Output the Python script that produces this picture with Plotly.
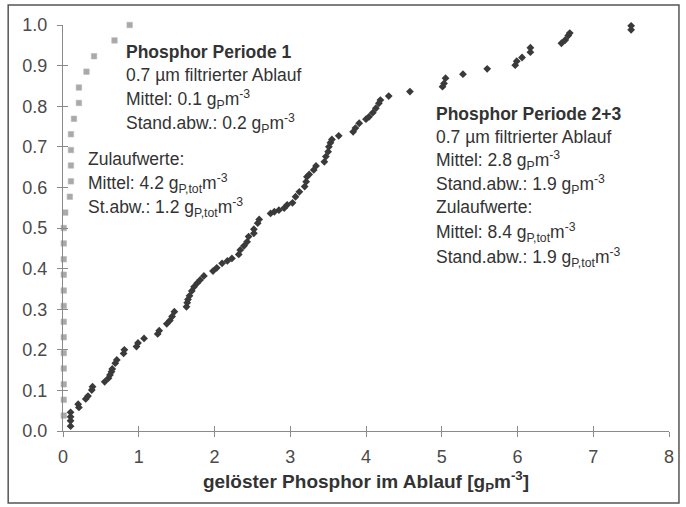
import plotly.graph_objects as go

# Periode 1: gelöster Phosphor im Ablauf (kumulierte Häufigkeit)
p1_x = [0.01, 0.01, 0.01, 0.01, 0.01, 0.01, 0.01, 0.01, 0.01, 0.01, 0.01, 0.01, 0.01,
        0.03, 0.09, 0.105, 0.105, 0.105, 0.105, 0.145, 0.21, 0.21, 0.31, 0.41, 0.68, 0.88]
p1_y = [0.038, 0.077, 0.115, 0.154, 0.192, 0.231, 0.269, 0.308, 0.346, 0.385, 0.423, 0.462, 0.500,
        0.538, 0.577, 0.615, 0.654, 0.692, 0.731, 0.769, 0.808, 0.846, 0.885, 0.923, 0.962, 1.000]

# Periode 2+3
p23_x = [0.10, 0.10, 0.10, 0.10, 0.21, 0.20, 0.30, 0.33, 0.38, 0.39,
         0.55, 0.60, 0.62, 0.64, 0.65, 0.69, 0.71, 0.80, 0.81, 0.97,
         0.99, 1.07, 1.25, 1.27, 1.37, 1.41, 1.44, 1.47, 1.63, 1.64,
         1.65, 1.67, 1.70, 1.73, 1.77, 1.81, 1.86, 1.98, 2.03, 2.10,
         2.17, 2.23, 2.32, 2.34, 2.39, 2.43, 2.45, 2.52, 2.52, 2.57,
         2.59, 2.74, 2.79, 2.85, 2.92, 2.96, 3.03, 3.07, 3.12, 3.19,
         3.21, 3.22, 3.25, 3.31, 3.34, 3.45, 3.47, 3.50, 3.51, 3.53,
         3.55, 3.64, 3.83, 3.86, 3.91, 4.00, 4.04, 4.09, 4.13, 4.17,
         4.19, 4.30, 4.58, 5.01, 5.03, 5.05, 5.28, 5.60, 5.97, 5.99,
         6.06, 6.17, 6.17, 6.58, 6.63, 6.67, 6.69, 7.50, 7.50]
p23_y = [0.012, 0.025, 0.035, 0.046, 0.058, 0.066, 0.079, 0.086, 0.101, 0.109,
         0.121, 0.130, 0.138, 0.146, 0.153, 0.167, 0.175, 0.191, 0.200, 0.208,
         0.217, 0.228, 0.239, 0.247, 0.264, 0.272, 0.282, 0.294, 0.306, 0.316,
         0.324, 0.333, 0.345, 0.355, 0.364, 0.372, 0.382, 0.394, 0.402, 0.413,
         0.419, 0.425, 0.435, 0.446, 0.456, 0.466, 0.479, 0.487, 0.497, 0.512,
         0.521, 0.536, 0.540, 0.544, 0.549, 0.557, 0.562, 0.577, 0.589, 0.602,
         0.614, 0.626, 0.632, 0.643, 0.653, 0.663, 0.676, 0.688, 0.700, 0.710,
         0.718, 0.727, 0.737, 0.746, 0.758, 0.768, 0.774, 0.784, 0.795, 0.807,
         0.815, 0.825, 0.836, 0.848, 0.856, 0.869, 0.879, 0.892, 0.901, 0.911,
         0.920, 0.933, 0.944, 0.955, 0.963, 0.974, 0.980, 0.988, 0.998]

x_ticks = [0, 1, 2, 3, 4, 5, 6, 7, 8]
y_ticks = [0.0, 0.1, 0.2, 0.3, 0.4, 0.5, 0.6, 0.7, 0.8, 0.9, 1.0]

W, H = 686, 507
ML, MR, MT, MB = 63, 15, 25, 76
PW, PH = W - ML - MR, H - MT - MB


def px(x):
    return (x - ML) / PW


def py(y):
    return (H - MB - y) / PH


FONT = "Liberation Sans, Arial, sans-serif"
TXT = "#333333"
AX = "#8a8a8a"

fig = go.Figure()
fig.add_trace(go.Scatter(
    x=p1_x, y=p1_y, mode="markers", cliponaxis=False, showlegend=False,
    marker=dict(symbol="square", size=5.5, color="#a9a9a9",
                line=dict(width=0.6, color="#b8b8b8")),
))
fig.add_trace(go.Scatter(
    x=p23_x, y=p23_y, mode="markers", cliponaxis=False, showlegend=False,
    marker=dict(symbol="diamond", size=6, color="#3a3a3a", line=dict(width=0)),
))
# empty trace so the overlay axes (inner half of the crossing ticks) are drawn
fig.add_trace(go.Scatter(x=[], y=[], xaxis="x2", yaxis="y2", showlegend=False))

common = dict(showgrid=False, zeroline=False, ticklen=5, tickwidth=1, tickcolor=AX)
fig.update_layout(
    width=W, height=H,
    margin=dict(l=ML, r=MR, t=MT, b=MB, pad=0),
    paper_bgcolor="white", plot_bgcolor="white",
    font=dict(family=FONT, color=TXT, size=17),
    xaxis=dict(range=[0, 8], tickvals=x_ticks, ticks="outside", showline=True,
               linecolor=AX, linewidth=1, ticklabelstandoff=4,
               tickfont=dict(size=18, color="#4a4a4a"),
               title=dict(text="<b>gelöster Phosphor im Ablauf [g<sub>P</sub>m<sup>-3</sup>]</b>",
                          font=dict(size=19, color=TXT), standoff=9),
               **common),
    yaxis=dict(range=[0, 1], tickvals=y_ticks, tickformat=".1f", ticks="outside",
               showline=True, linecolor=AX, linewidth=1, ticklabelstandoff=6,
               tickfont=dict(size=18, color="#4a4a4a"), **common),
    xaxis2=dict(range=[0, 8], tickvals=x_ticks, ticks="inside", overlaying="x",
                anchor="y2", side="bottom", showline=False, showticklabels=False, **common),
    yaxis2=dict(range=[0, 1], tickvals=y_ticks, ticks="inside", overlaying="y",
                anchor="x2", side="left", showline=False, showticklabels=False, **common),
)

# outer frame
fig.add_shape(type="rect", xref="paper", yref="paper",
              x0=px(8), x1=px(681), y0=py(503), y1=py(5),
              line=dict(color="#555555", width=1.5), fillcolor="rgba(0,0,0,0)", layer="below")

GP = "g<sub>P</sub>m<sup>-3</sup>"
GPT = "g<sub>P,tot</sub>m<sup>-3</sup>"
labels = [
    (124, 52, "<b>Phosphor Periode 1</b>"),
    (124, 75, "0.7 µm filtrierter Ablauf"),
    (124, 99, "Mittel: 0.1 " + GP),
    (124, 123, "Stand.abw.: 0.2 " + GP),
    (86, 159, "Zulaufwerte:"),
    (86, 183, "Mittel: 4.2 " + GPT),
    (86, 207, "St.abw.: 1.2 " + GPT),
    (435, 114, "<b>Phosphor Periode 2+3</b>"),
    (435, 137, "0.7 µm filtrierter Ablauf"),
    (435, 160, "Mittel: 2.8 " + GP),
    (435, 184, "Stand.abw.: 1.9 " + GP),
    (435, 207, "Zulaufwerte:"),
    (435, 232, "Mittel: 8.4 " + GPT),
    (435, 257, "Stand.abw.: 1.9 " + GPT),
]
for x, y, t in labels:
    fig.add_annotation(x=px(x), y=py(y), xref="paper", yref="paper", text=t,
                       showarrow=False, xanchor="left", yanchor="middle",
                       font=dict(family=FONT, size=17.5, color=TXT))

fig.write_html("out.html")
